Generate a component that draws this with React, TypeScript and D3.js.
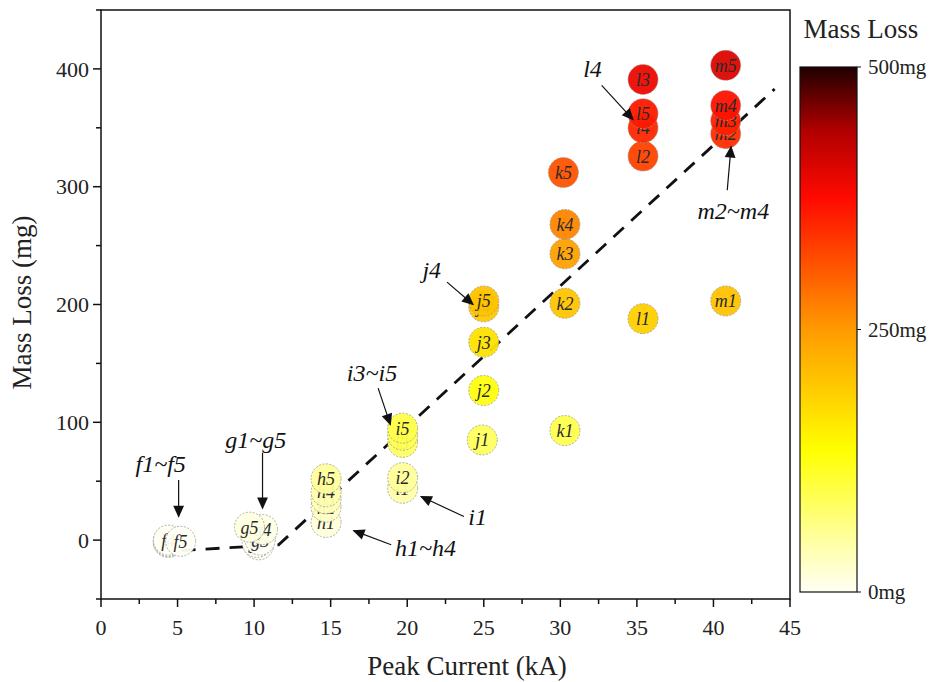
import React from "react";
import * as d3 from "d3";

const sampleLabels = [
  "f1", "f2", "f3", "f4", "f5",
  "g1", "g2", "g3", "g4", "g5",
  "h1", "h2", "h3", "h4", "h5",
  "i1", "i2", "i3", "i4", "i5",
  "j1", "j2", "j3", "j4", "j5",
  "k1", "k2", "k3", "k4", "k5",
  "l1", "l2", "l4", "l5", "l3",
  "m1", "m2", "m3", "m4", "m5",
];
const peakCurrent = [
  4.4, 4.4, 4.4, 4.4, 5.2,
  10.3, 10.2, 10.4, 10.55, 9.7,
  14.7, 14.7, 14.7, 14.7, 14.7,
  19.7, 19.7, 19.7, 19.7, 19.7,
  24.9, 25.0, 25.0, 25.0, 25.0,
  30.3, 30.3, 30.3, 30.3, 30.2,
  35.4, 35.4, 35.4, 35.4, 35.4,
  40.8, 40.8, 40.8, 40.8, 40.8,
];
const massLoss = [
  -2, -1, -1, 0, -1,
  -4, -2, 0, 9, 11,
  15, 28, 35, 41, 52,
  44, 53, 83, 89, 95,
  85, 127, 168, 198, 203,
  93, 201, 243, 268, 312,
  188, 326, 350, 362, 391,
  203, 345, 356, 369, 403,
];

const trendX = [3.7, 11.6, 44];
const trendY = [-10, -4, 383];

const xTicks = [0, 5, 10, 15, 20, 25, 30, 35, 40, 45];
const yTicks = [0, 100, 200, 300, 400];
const colorStops = [0, 50, 135, 250, 375, 440, 500];
const colorValues = ["#fffff4", "#ffffa0", "#ffff00", "#ff9a00", "#ff0a00", "#b00000", "#200000"];
const colorbarTicks = [0, 250, 500];

// annotations: text, text position (data), arrow tail (data), arrow head (data)
const annoText = ["f1~f5", "g1~g5", "h1~h4", "i1", "i3~i5", "j4", "l4", "m2~m4"];
const annoTextX = [3.9, 10.1, 21.2, 24.6, 17.7, 21.6, 32.1, 41.3];
const annoTextY = [65, 85, -6, 20, 142, 230, 400, 280];
const annoTailX = [5.07, 10.55, 18.95, 23.7, 18.1, 22.6, 32.7, 40.9];
const annoTailY = [51, 74, -4, 20, 129, 219, 386, 297];
const annoHeadX = [5.07, 10.55, 16.5, 20.9, 18.9, 24.3, 34.75, 41.15];
const annoHeadY = [20, 27, 8, 37, 98, 200, 357, 334];

const W = 935, H = 682;
const M = { left: 101, right: 790, top: 10, bottom: 599 };
const CB = { x: 800, w: 57, top: 67, bottom: 592 };
const serif = "'Liberation Serif', 'Times New Roman', serif";

export default function App() {
  const x = d3.scaleLinear().domain([0, 45]).range([M.left, M.right]);
  const y = d3.scaleLinear().domain([-50, 450]).range([M.bottom, M.top]);
  const color = d3.scaleLinear<string>().domain(colorStops).range(colorValues).clamp(true);
  const cbY = d3.scaleLinear().domain([0, 500]).range([CB.bottom, CB.top]);

  const trend = d3.line<number>().x((d, i) => x(trendX[i])).y((d, i) => y(trendY[i]))(trendX);

  const minorX = d3.range(0, 45.01, 2.5).filter((v) => v % 5 !== 0);
  const minorY = d3.range(-50, 451, 50).filter((v) => v % 100 !== 0);
  const r = 15;

  return (
    <svg width={W} height={H} style={{ position: "absolute", left: 0, top: 0, background: "#fff" }} fontFamily={serif}>
      <defs>
        <linearGradient id="cbg" x1="0" y1="1" x2="0" y2="0">
          {colorStops.map((s, i) => (
            <stop key={i} offset={`${(s / 500) * 100}%`} stopColor={colorValues[i]} />
          ))}
        </linearGradient>
        <marker id="arrL" viewBox="0 0 10 10" refX="9" refY="5" markerWidth="14" markerHeight="12" markerUnits="userSpaceOnUse" orient="auto">
          <path d="M0,0.5 L10,5 L0,9.5 Z" fill="#111" />
        </marker>
      </defs>

      {/* trend line */}
      <path d={trend ?? ""} fill="none" stroke="#111" strokeWidth={2.8} strokeDasharray="14 10" />

      {/* points */}
      {sampleLabels.map((lab, i) => {
        const cx = x(peakCurrent[i]);
        const cy = y(massLoss[i]);
        return (
          <g key={lab}>
            <circle cx={cx} cy={cy} r={r} fill={color(massLoss[i])} fillOpacity={0.95} stroke="#9a9a9a" strokeWidth={0.8} strokeDasharray="2 1.5" />
            <text x={cx} y={cy} dy="0.36em" textAnchor="middle" fontStyle="italic" fontSize={18} fill="#2a2a2a">
              {lab}
            </text>
          </g>
        );
      })}

      {/* annotations */}
      {annoText.map((t, i) => (
        <g key={t}>
          <line x1={x(annoTailX[i])} y1={y(annoTailY[i])} x2={x(annoHeadX[i])} y2={y(annoHeadY[i])} stroke="#111" strokeWidth={1.2} markerEnd="url(#arrL)" />
          <text x={x(annoTextX[i])} y={y(annoTextY[i])} dy="0.35em" textAnchor="middle" fontStyle="italic" fontSize={24} fill="#111">
            {t}
          </text>
        </g>
      ))}

      {/* frame */}
      <rect x={M.left} y={M.top} width={M.right - M.left} height={M.bottom - M.top} fill="none" stroke="#111" strokeWidth={1.5} />

      {/* x axis */}
      {xTicks.map((v) => (
        <g key={v}>
          <line x1={x(v)} x2={x(v)} y1={M.bottom} y2={M.bottom + 8} stroke="#111" strokeWidth={1.5} />
          <text x={x(v)} y={M.bottom + 36} textAnchor="middle" fontSize={22} fill="#222">{v}</text>
        </g>
      ))}
      {minorX.map((v) => (
        <line key={v} x1={x(v)} x2={x(v)} y1={M.bottom} y2={M.bottom + 5} stroke="#111" strokeWidth={1.5} />
      ))}
      <text x={467} y={675} textAnchor="middle" fontSize={27} fill="#222">Peak Current (kA)</text>

      {/* y axis */}
      {yTicks.map((v) => (
        <g key={v}>
          <line x1={M.left - 8} x2={M.left} y1={y(v)} y2={y(v)} stroke="#111" strokeWidth={1.5} />
          <text x={M.left - 12} y={y(v)} dy="0.35em" textAnchor="end" fontSize={22} fill="#222">{v}</text>
        </g>
      ))}
      {minorY.map((v) => (
        <line key={v} x1={M.left - 5} x2={M.left} y1={y(v)} y2={y(v)} stroke="#111" strokeWidth={1.5} />
      ))}
      <text transform={`translate(22,${(M.top + M.bottom) / 2 - 2}) rotate(-90)`} textAnchor="middle" dy="0.35em" fontSize={27} fill="#222">Mass Loss (mg)</text>

      {/* colorbar */}
      <text x={861} y={38} textAnchor="middle" fontSize={27} fill="#222">Mass Loss</text>
      <rect x={CB.x} y={CB.top} width={CB.w} height={CB.bottom - CB.top} fill="url(#cbg)" stroke="#111" strokeWidth={1.2} />
      {colorbarTicks.map((v) => (
        <g key={v}>
          <line x1={CB.x + CB.w} x2={CB.x + CB.w + 4} y1={cbY(v)} y2={cbY(v)} stroke="#111" strokeWidth={1} />
          <text x={CB.x + CB.w + 11} y={cbY(v)} dy="0.35em" fontSize={21} fill="#222">{`${v}mg`}</text>
        </g>
      ))}
    </svg>
  );
}
